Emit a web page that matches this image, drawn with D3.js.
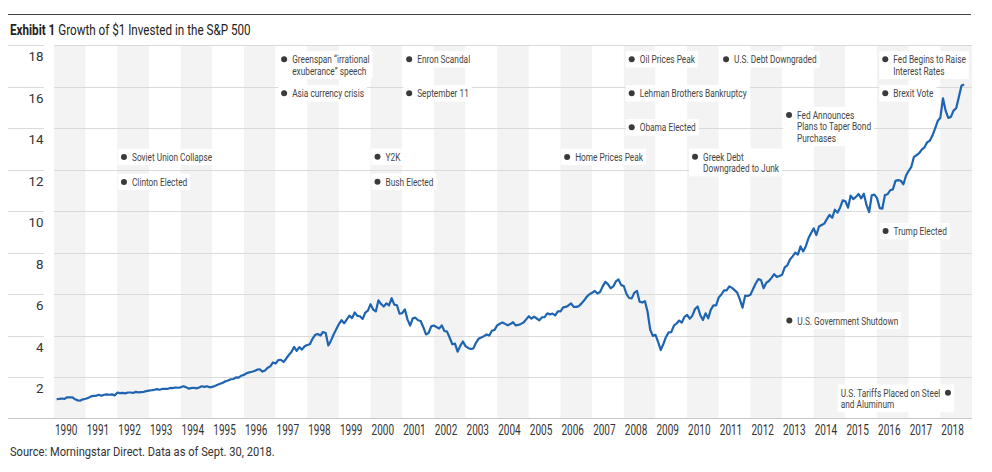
<!DOCTYPE html>
<html><head><meta charset="utf-8">
<script src="https://cdn.jsdelivr.net/npm/d3@7"></script>
<style>
html,body{margin:0;padding:0;background:#fff;}
svg{display:block;font-family:Roboto,"Liberation Sans",sans-serif;}
</style></head>
<body><svg id="chart" width="992" height="472"></svg>
<script>
// ---- data ----
const startYear = 1990;
const yearLabels = d3.range(1990, 2019).map(String);
const yTicks = [2, 4, 6, 8, 10, 12, 14, 16, 18];
// Growth of $1, month-end values Jan 1990 .. Sep 2018
const growth1990s = [
  0.93,0.94,0.96,0.94,1.02,1.01,1.01,0.92,0.87,0.86,0.92,0.95,
  0.99,1.06,1.09,1.09,1.14,1.09,1.14,1.16,1.14,1.16,1.11,1.24,
  1.22,1.23,1.21,1.25,1.25,1.23,1.28,1.26,1.27,1.28,1.32,1.34,
  1.36,1.38,1.41,1.38,1.42,1.42,1.42,1.47,1.46,1.49,1.48,1.50,
  1.55,1.51,1.44,1.46,1.48,1.45,1.49,1.55,1.52,1.55,1.50,1.52,
  1.56,1.62,1.67,1.72,1.79,1.83,1.89,1.90,1.98,1.97,2.06,2.10,
  2.18,2.22,2.25,2.29,2.35,2.37,2.26,2.31,2.44,2.51,2.70,2.65,
  2.81,2.83,2.72,2.88,3.06,3.20,3.45,3.26,3.44,3.32,3.48,3.54,
  3.58,3.84,4.03,4.07,4.00,4.17,4.12,3.52,3.75,4.05,4.30,4.55,
  4.74,4.59,4.78,4.96,4.84,5.11,4.95,4.93,4.80,5.10,5.20,5.51
];
const growth2000s = [
  5.25,5.16,5.70,5.52,5.40,5.55,5.45,5.80,5.49,5.46,5.05,5.08,
  5.26,4.78,4.48,4.83,4.86,4.74,4.70,4.40,4.05,4.12,4.44,4.48,
  4.41,4.33,4.49,4.22,4.19,3.89,3.58,3.61,3.22,3.50,3.71,3.49,
  3.40,3.35,3.38,3.66,3.85,3.90,3.97,4.05,4.00,4.23,4.27,4.49,
  4.57,4.63,4.56,4.49,4.55,4.64,4.49,4.51,4.56,4.63,4.78,4.93,
  4.81,4.91,4.82,4.73,4.88,4.89,5.07,5.02,5.06,4.97,5.16,5.16,
  5.36,5.38,5.45,5.55,5.38,5.38,5.42,5.55,5.70,5.88,5.99,6.06,
  6.15,6.03,6.10,6.37,6.59,6.48,6.28,6.37,6.61,6.71,6.43,6.39,
  6.01,5.81,5.79,6.07,6.15,5.63,5.59,5.66,5.16,4.29,3.98,4.03,
  3.69,3.30,3.59,3.93,4.15,4.16,4.48,4.58,4.72,4.62,4.90,4.99
];
const growth2010s = [
  4.81,4.96,5.28,5.40,4.98,4.75,5.07,4.83,5.25,5.45,5.45,5.84,
  5.98,6.18,6.18,6.37,6.30,6.19,6.07,5.74,5.34,5.92,5.91,5.97,
  6.24,6.51,6.72,6.68,6.28,6.54,6.63,6.78,6.96,6.83,6.87,6.93,
  7.29,7.39,7.67,7.82,8.00,7.90,8.30,8.06,8.31,8.69,8.95,9.17,
  8.85,9.26,9.33,9.40,9.62,9.82,9.68,10.07,9.93,10.17,10.52,10.48,
  10.17,10.75,10.58,10.69,10.83,10.62,10.84,10.30,9.96,10.77,10.80,10.63,
  10.15,10.12,10.78,10.82,11.01,11.05,11.46,11.50,11.47,11.30,11.72,11.95,
  12.14,12.62,12.70,12.80,12.98,13.08,13.33,13.40,13.65,13.98,14.35,14.51,
  15.45,14.85,14.50,14.55,14.85,14.97,15.50,16.05,16.12
];
const growth = growth1990s.concat(growth2000s, growth2010s);

// annotation labels, placed in data units (year, value)
const annoText = [
  ["Soviet Union Collapse"], ["Clinton Elected"],
  ["Greenspan \u201Cirrational", "exuberance\u201D speech"], ["Asia currency crisis"],
  ["Enron Scandal"], ["September 11"], ["Y2K"], ["Bush Elected"],
  ["Home Prices Peak"], ["Oil Prices Peak"], ["Lehman Brothers Bankruptcy"], ["Obama Elected"],
  ["U.S. Debt Downgraded"], ["Greek Debt", "Downgraded to Junk"],
  ["Fed Announces", "Plans to Taper Bond", "Purchases"],
  ["Fed Begins to Raise", "Interest Rates"], ["Brexit Vote"], ["Trump Elected"],
  ["U.S. Government Shutdown"], ["U.S. Tariffs Placed on Steel", "and Aluminum"]
];
const annoYear = [1992.21,1992.21,1997.27,1997.27,2001.22,2001.22,2000.22,2000.22,
  2006.21,2008.25,2008.25,2008.25,2011.23,2010.25,2013.22,2016.26,2016.26,2016.27,2013.23,2018.24];
const annoValue = [12.62,11.41,17.33,15.69,17.33,15.69,12.63,11.42,
  12.62,17.33,15.69,14.05,17.33,12.63,14.64,17.33,15.69,9.04,4.72,1.24];
const annoSide = ["r","r","r","r","r","r","r","r","r","r","r","r","r","r","r","r","r","r","r","l"];

// ---- drawing ----
const svg = d3.select("#chart");
const x = d3.scaleLinear().domain([1990, 2019]).range([54, 972]);
const y = d3.scaleLinear().domain([0, 18]).range([418.4, 45.4]);

// condensed-font emulation: horizontal scale factor calibrated from a sample width
function measure(str, size, weight) {
  const t = svg.append("text").attr("font-size", size).attr("font-weight", weight || "normal").text(str);
  const w = t.node().getComputedTextLength();
  t.remove();
  return w;
}
const sxSource = 265 / measure("Source: Morningstar Direct. Data as of Sept. 30, 2018.", 12.5);
const sxAnno = 107 / measure("Lehman Brothers Bankruptcy", 11);
const sxAxis = 22.5 / measure("1990", 14);
const sxTick = 15 / measure("18", 13);
const sxTitle = 238 / (measure("Exhibit 1", 14, "bold") + measure(" Growth of $1 Invested in the S&P 500", 14));

function ctext(parent, px, py, sx) {
  return parent.append("g").attr("transform", `translate(${px},${py}) scale(${sx},1)`).append("text");
}

// top rule
svg.append("line").attr("x1", 8).attr("x2", 971).attr("y1", 14.5).attr("y2", 14.5)
  .attr("stroke", "#444").attr("stroke-width", 1);

// title
const title = ctext(svg, 10, 34.5, sxTitle).attr("font-size", 14).attr("fill", "#222");
title.append("tspan").attr("font-weight", "bold").text("Exhibit 1");
title.append("tspan").text(" Growth of $1 Invested in the S&P 500");

// bands
svg.append("g").selectAll("rect").data(yearLabels).join("rect")
  .attr("x", (d) => x(+d)).attr("width", (d) => x(+d + 1) - x(+d))
  .attr("y", y(18)).attr("height", y(0) - y(18))
  .attr("fill", (d, i) => i % 2 === 0 ? "#f3f3f3" : "#ffffff");

// gridlines
const grid = svg.append("g").attr("stroke", "#dadada").attr("stroke-width", 1);
yTicks.forEach(v => {
  const yy = Math.round(y(v)) + 0.5;
  grid.append("line").attr("x1", 8).attr("x2", 44).attr("y1", yy).attr("y2", yy);
  grid.append("line").attr("x1", 54).attr("x2", 972).attr("y1", yy).attr("y2", yy);
});
const y0 = Math.round(y(0)) + 0.5;
svg.append("line").attr("x1", 8).attr("x2", 972).attr("y1", y0).attr("y2", y0)
  .attr("stroke", "#c8c8c8").attr("stroke-width", 1);

// y labels
const yl = svg.append("g");
yTicks.forEach(v => {
  ctext(yl, 43.5, y(v) + 16, sxTick).attr("text-anchor", "end")
    .attr("font-size", 13).attr("fill", "#333").text(v);
});

// x labels
const xl = svg.append("g");
yearLabels.forEach(s => {
  ctext(xl, x(+s) + 1, 435, sxAxis).attr("font-size", 14).attr("fill", "#333").text(s);
});

// annotations
const annoG = svg.append("g");
annoText.forEach((lines, i) => {
  const right = annoSide[i] === "r";
  const g = annoG.append("g").attr("transform", `translate(${x(annoYear[i])},${y(annoValue[i])})`);
  const bg = g.append("rect").attr("fill", "#fff");
  g.append("circle").attr("r", 3).attr("fill", "#3a3a3a");
  // left-side labels: block is left-aligned, its first line ends next to the dot
  const firstW = measure(lines[0], 11) * sxAnno;
  const tx = right ? 8 : -7.5 - firstW;
  const t = ctext(g, tx, 0, sxAnno).attr("font-size", 11).attr("fill", "#444");
  lines.forEach((s, k) => {
    t.append("tspan").attr("x", 0).attr("y", 4 + k * 11.4).text(s);
  });
  const b = g.node().getBBox();
  bg.attr("x", b.x - 3).attr("y", b.y - 2).attr("width", b.width + 6).attr("height", b.height + 4);
});

// line
const line = d3.line().x((d, i) => x(startYear + (i + 1) / 12)).y(d => y(d)).curve(d3.curveLinear);
svg.append("path").datum(growth).attr("d", line).attr("fill", "none")
  .attr("stroke", "#1e64b0").attr("stroke-width", 2.2).attr("stroke-linejoin", "round");

// source
ctext(svg, 10, 455.5, sxSource).attr("font-size", 12.5).attr("fill", "#333")
  .text("Source: Morningstar Direct. Data as of Sept. 30, 2018.");
</script></body></html>
